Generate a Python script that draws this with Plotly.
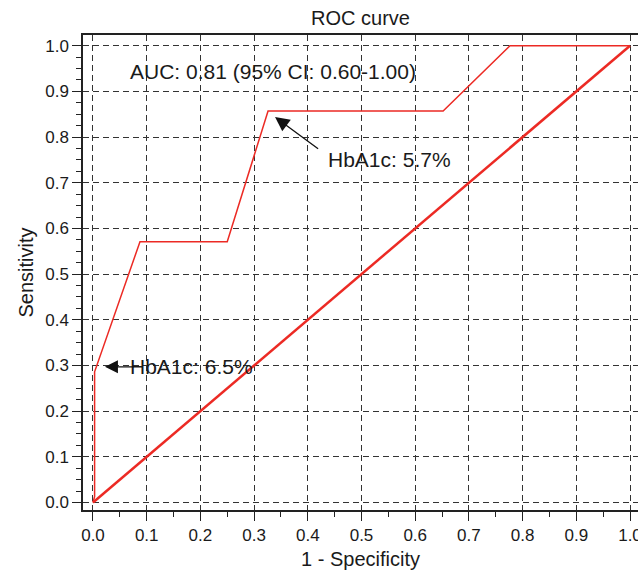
import plotly.graph_objects as go

# ROC curve data (1 - specificity, sensitivity)
roc_fpr = [0.0, 0.003, 0.003, 0.0875, 0.25, 0.326, 0.652, 0.7765, 1.0]
roc_tpr = [0.0, 0.013, 0.286, 0.571, 0.571, 0.857, 0.857, 1.0, 1.0]
# reference diagonal
diag_x = [0.0, 1.0]
diag_y = [0.0, 1.0]

tick_vals = [0.0, 0.1, 0.2, 0.3, 0.4, 0.5, 0.6, 0.7, 0.8, 0.9, 1.0]
tick_text = ["0.0", "0.1", "0.2", "0.3", "0.4", "0.5", "0.6", "0.7", "0.8", "0.9", "1.0"]

auc_text = "AUC: 0.81 (95% CI: 0.60-1.00)"
cut1_label = "HbA1c: 5.7%"
cut1_point = (0.339, 0.844)
cut2_label = "HbA1c: 6.5%"
cut2_point = (0.0223, 0.297)

RED = "#ec2a24"
FONT = "Liberation Sans, Arial, sans-serif"
TXT = "#1a1a1a"

fig = go.Figure()
fig.add_trace(go.Scatter(x=diag_x, y=diag_y, mode="lines",
                         line=dict(color=RED, width=2.5), hoverinfo="skip"))
fig.add_trace(go.Scatter(x=roc_fpr, y=roc_tpr, mode="lines",
                         line=dict(color=RED, width=1.5), hoverinfo="skip"))

# annotations
fig.add_annotation(x=0.335, y=0.943, text=auc_text, showarrow=False,
                   font=dict(size=21, color=TXT, family=FONT))
fig.add_annotation(x=0.553, y=0.750, text=cut1_label, showarrow=False,
                   font=dict(size=21, color=TXT, family=FONT))
fig.add_annotation(x=cut1_point[0], y=cut1_point[1], ax=0.422, ay=0.772,
                   axref="x", ayref="y", xref="x", yref="y", text="",
                   showarrow=True, arrowhead=2, arrowsize=2.2, arrowwidth=1.3,
                   arrowcolor="#111111")
fig.add_annotation(x=0.183, y=0.297, text=cut2_label, showarrow=False,
                   font=dict(size=21, color=TXT, family=FONT))
fig.add_annotation(x=cut2_point[0], y=cut2_point[1], ax=0.078, ay=0.297,
                   axref="x", ayref="y", xref="x", yref="y", text="",
                   showarrow=True, arrowhead=2, arrowsize=2.0, arrowwidth=1.3,
                   arrowcolor="#111111")

axis_common = dict(
    tickvals=tick_vals, ticktext=tick_text, automargin=False,
    showgrid=True, gridcolor="#333333", gridwidth=1, griddash="6px,4px",
    zeroline=False, showline=True, linecolor="#222222", linewidth=1.5,
    ticks="outside", ticklen=9, tickwidth=1.2, tickcolor="#222222",
    tickfont=dict(size=17, color=TXT, family=FONT),
    ticklabeloverflow="allow",
)

fig.update_xaxes(range=[-0.0186, 1.0149], mirror=True,
                 title=dict(text="1 - Specificity", font=dict(size=20, color=TXT, family=FONT), standoff=8),
                 minor=dict(dtick=0.05, ticks="outside", ticklen=5, tickwidth=1.2, tickcolor="#222222", showgrid=False),
                 **axis_common)
fig.update_yaxes(range=[-0.0164, 1.0235],
                 title=dict(text="Sensitivity", font=dict(size=20, color=TXT, family=FONT), standoff=6),
                 minor=dict(dtick=0.025, ticks="outside", ticklen=5, tickwidth=1.2, tickcolor="#222222", showgrid=False),
                 **axis_common)

fig.update_layout(
    width=638, height=572,
    margin=dict(l=83, r=0, t=35, b=62),
    paper_bgcolor="white", plot_bgcolor="white",
    showlegend=False,
    title=dict(text="ROC curve", x=0.565, xanchor="center", y=0.968, yanchor="middle",
               font=dict(size=20, color=TXT, family=FONT)),
    font=dict(family=FONT),
)

fig.write_html("out.html", config={"displayModeBar": False},
               post_script="document.body.style.margin='0';document.body.style.overflow='hidden';")
